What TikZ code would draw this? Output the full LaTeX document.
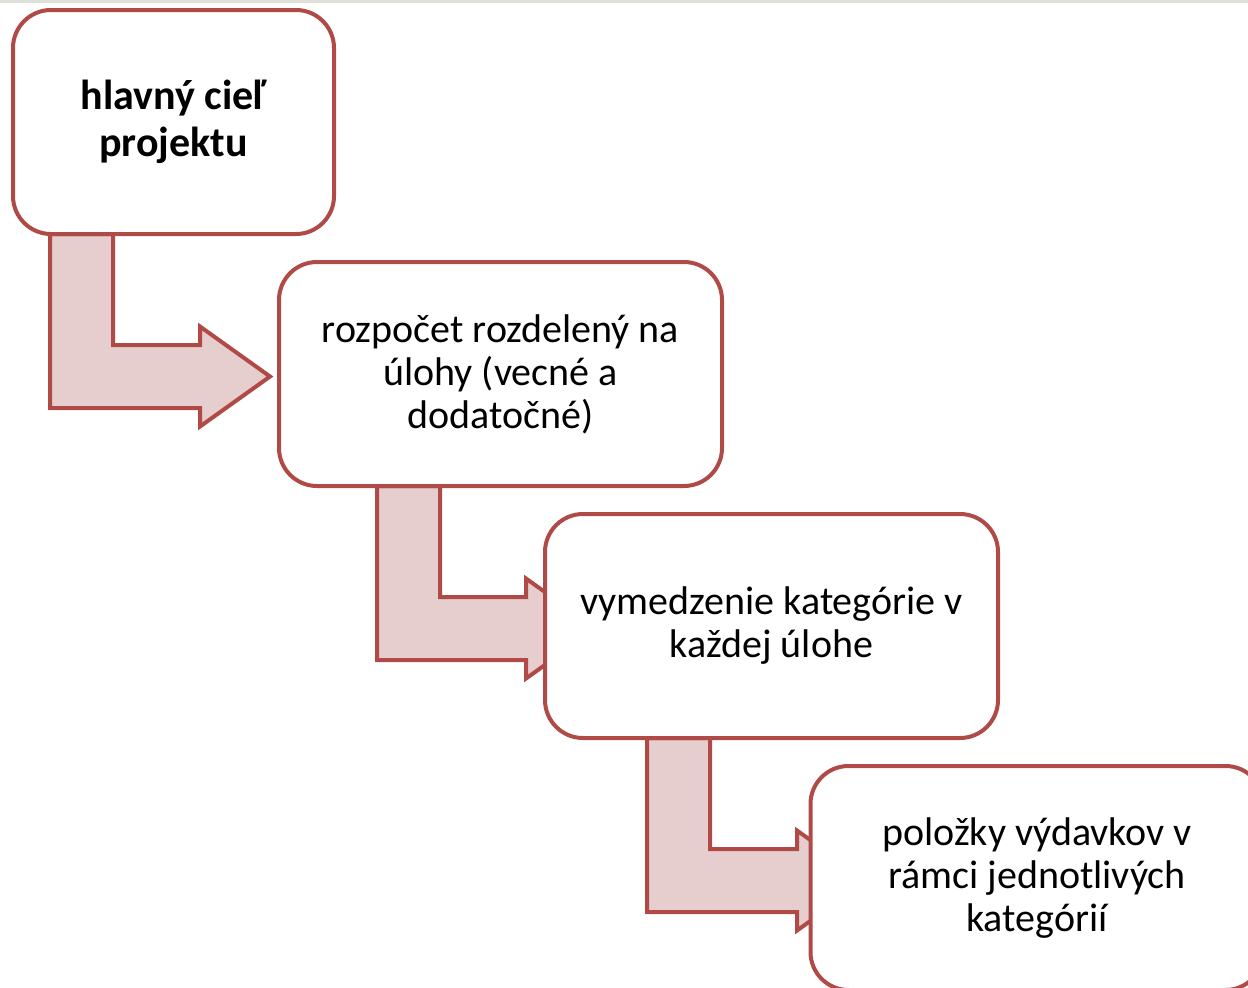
\documentclass[tikz,border=0pt]{standalone}
\usepackage{fontspec}
\setmainfont{Carlito}
\definecolor{bordred}{RGB}{176,74,70}
\definecolor{arrfill}{RGB}{230,206,206}
\definecolor{topstrip}{RGB}{222,224,218}
\newcommand{\bentarr}[4]{% #1 stem left, #2 top, #3 bar inner top, #4 head base
  \filldraw[arrowshape] (#1,#2) -- ({#1+63},#2) -- ({#1+63},#3) -- (#4,#3)
    -- (#4,{#3+31.5-50}) -- ({#4+70},{#3+31.5}) -- (#4,{#3+31.5+50})
    -- (#4,{#3+63}) -- (#1,{#3+63}) -- cycle;}
\begin{document}
\begin{tikzpicture}[x=1pt,y=-1pt,
  box/.style={draw=bordred, line width=4pt, fill=white, rectangle,
    rounded corners=38pt, minimum height=224pt, inner sep=0pt, outer sep=0pt,
    align=center, font=\fontsize{40}{43}\selectfont},
  arrowshape/.style={draw=bordred, fill=arrfill, line width=4pt, line join=miter}]
\useasboundingbox (0,0) rectangle (1248,988);
\fill[topstrip] (0,0) rectangle (1248,3);
\bentarr{50}{234}{345}{200}
\bentarr{377}{486}{597}{526}
\bentarr{647}{738}{849}{797}
\node[box, minimum width=321pt, font=\fontsize{42}{47}\selectfont\bfseries] (b1) at (173.5,122) {hlavný cieľ\\projektu};
\node[box, minimum width=443pt] (b2) at (500.5,374) {rozpočet rozdelený na\\úlohy (vecné a\\dodatočné)};
\node[box, minimum width=453pt] (b3) at (771.5,626) {vymedzenie kategórie v\\každej úlohe};
\node[box, minimum width=453pt] (b4) at (1037,878) {položky výdavkov v\\rámci jednotlivých\\kategórií};
\end{tikzpicture}
\end{document}
